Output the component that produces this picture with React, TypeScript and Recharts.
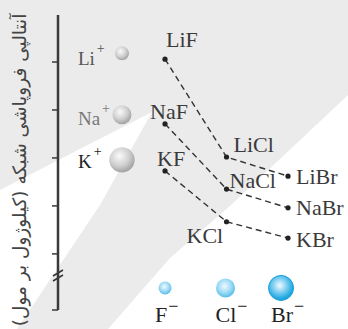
import { ScatterChart, Scatter, XAxis, YAxis } from "recharts";

// columns and rows of the diagram
const anions = ["F", "Cl", "Br"];
const cations = ["Li", "Na", "K"];

const liValues = [1006, 802, 762];
const naValues = [871, 735, 696];
const kValues = [773, 667, 633];

// where the ion "key" spheres sit on the same scale
const cationLevels = [1018, 890, 796];
const anionKeyLevel = 529;

const yTicks = [1000, 900, 800, 700, 600, 483];
const yDomain = [483, 1098];
const xDomain = [-1.74, 2.975];
const cationColumn = -0.7;

const axisTitle = "آنتالپی فروپاشی شبکه (کیلوژول بر مول)";

const rows = [liValues, naValues, kValues];
const series = cations.map((c, r) =>
  anions.map((a, i) => ({ x: i, y: rows[r][i], name: c + a }))
);
const cationKey = cations.map((c, i) => ({ x: cationColumn, y: cationLevels[i], name: c }));
const anionKey = anions.map((a, i) => ({ x: i, y: anionKeyLevel, name: a }));

const serif = "'Liberation Serif', 'Times New Roman', serif";

// label placement relative to each point (dx, dy)
const labelOffset: Record<string, [number, number]> = {
  LiF: [1, -12],
  NaF: [-15, -5],
  KF: [-8, -5],
  LiCl: [7, -5],
  NaCl: [3, -1],
  KCl: [-40, 21],
  LiBr: [8, 8],
  NaBr: [8, 7],
  KBr: [8, 9],
};

const cationStyle: Record<string, { r: number; dy: number; color: string }> = {
  Li: { r: 7, dy: 12, color: "#555" },
  Na: { r: 9.5, dy: 10, color: "#777" },
  K: { r: 12.7, dy: 8, color: "#222" },
};

const anionStyle: Record<string, { r: number; dx: number; grad: string; stroke: string }> = {
  F: { r: 6.5, dx: 0, grad: "blueLight", stroke: "none" },
  Cl: { r: 9.5, dx: -1, grad: "blueLight", stroke: "none" },
  Br: { r: 12.5, dx: -7, grad: "blueDeep", stroke: "#1a9fd8" },
};

const CompoundDot = (props: any) => {
  const { cx, cy, payload } = props;
  const [dx, dy] = labelOffset[payload.name];
  return (
    <g>
      <circle cx={cx} cy={cy} r={2.6} fill="#222" />
      <text x={cx + dx} y={cy + dy} fontSize={22} style={{ fontFamily: serif }} fill="#3a3a3a">
        {payload.name}
      </text>
    </g>
  );
};

const CationBall = (props: any) => {
  const { cx, cy, payload } = props;
  const s = cationStyle[payload.name];
  return (
    <g>
      <text x={cx - 44} y={cy + s.dy} fontSize={19} style={{ fontFamily: serif }} fill={s.color}>
        {payload.name}
        <tspan dx={2} dy={-12} fontSize={14}>
          +
        </tspan>
      </text>
      <circle cx={cx} cy={cy} r={s.r} fill="url(#greyBall)" />
    </g>
  );
};

const AnionBall = (props: any) => {
  const { cx, cy, payload } = props;
  const s = anionStyle[payload.name];
  const x = cx + s.dx;
  return (
    <g>
      <circle cx={x} cy={cy} r={s.r} fill={`url(#${s.grad})`} stroke={s.stroke} strokeWidth={1} />
      <text x={x - 10} y={cy + 34} fontSize={22} style={{ fontFamily: serif }} fill="#222">
        {payload.name}
        <tspan dx={1} dy={-10} fontSize={18}>
          −
        </tspan>
      </text>
    </g>
  );
};

const dashed = { stroke: "#333", strokeWidth: 1.4, strokeDasharray: "6 4" };

export default function App() {
  return (
    <div style={{ position: "absolute", left: 0, top: 0, width: 348, height: 329 }}>
      {/* grey backdrop with the two white wedges */}
      <svg width={348} height={329} style={{ position: "absolute", left: 0, top: 0 }}>
        <defs>
          <radialGradient id="greyBall" cx="40%" cy="35%" r="65%">
            <stop offset="0%" stopColor="#fafafa" />
            <stop offset="60%" stopColor="#cfcfcf" />
            <stop offset="100%" stopColor="#a3a3a3" />
          </radialGradient>
          <radialGradient id="blueLight" cx="45%" cy="40%" r="60%">
            <stop offset="0%" stopColor="#effaff" />
            <stop offset="55%" stopColor="#a3ddf5" />
            <stop offset="100%" stopColor="#58bde9" />
          </radialGradient>
          <radialGradient id="blueDeep" cx="45%" cy="40%" r="60%">
            <stop offset="0%" stopColor="#f2fbff" />
            <stop offset="40%" stopColor="#8fd5f3" />
            <stop offset="85%" stopColor="#25aae2" />
            <stop offset="100%" stopColor="#1b9fd6" />
          </radialGradient>
        </defs>
        <rect x={0} y={0} width={348} height={329} fill="#ebebeb" />
        <polygon points="0,190 152,112 100,205 17,329 0,329" fill="#fff" />
        <polygon points="348,95 231,205 170,258 108,329 348,329" fill="#fff" />
        <text
          transform="translate(26,170) rotate(-90)"
          textAnchor="middle"
          fontSize={18.5}
          fontFamily="'DejaVu Sans', sans-serif"
          fill="#444"
          direction="rtl"
        >
          {axisTitle}
        </text>
        {/* axis break */}
        <line x1={53} y1={276} x2={63} y2={270} stroke="#333" strokeWidth={1.5} />
        <line x1={53} y1={281} x2={63} y2={275} stroke="#333" strokeWidth={1.5} />
      </svg>
      <div style={{ position: "absolute", left: 0, top: 0 }}>
        <ScatterChart width={348} height={329} margin={{ top: 15, right: 0, bottom: 19, left: 0 }}>
          <XAxis type="number" dataKey="x" domain={xDomain} hide />
          <YAxis
            type="number"
            dataKey="y"
            domain={yDomain}
            ticks={yTicks}
            interval={0}
            width={58}
            tick={() => <g />}
            tickSize={6}
            axisLine={{ stroke: "#3a3a3a", strokeWidth: 2.5 }}
            tickLine={{ stroke: "#3a3a3a", strokeWidth: 1.5 }}
          />
          {series.map((row, i) => (
            <Scatter
              key={cations[i]}
              data={row}
              fill="#222"
              line={dashed}
              lineJointType="linear"
              shape={CompoundDot}
              isAnimationActive={false}
            />
          ))}
          <Scatter data={cationKey} fill="#bbb" shape={CationBall} isAnimationActive={false} />
          <Scatter data={anionKey} fill="#6cc6ee" shape={AnionBall} isAnimationActive={false} />
        </ScatterChart>
      </div>
    </div>
  );
}
